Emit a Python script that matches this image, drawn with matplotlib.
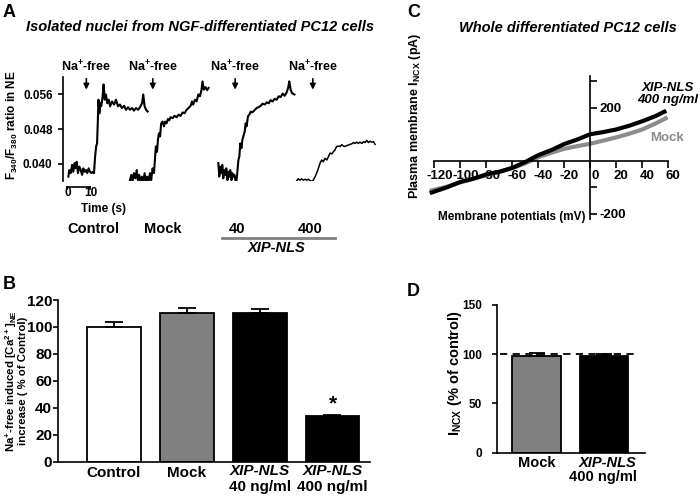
import numpy as np
import matplotlib
matplotlib.use('Agg')
import matplotlib.pyplot as plt
from matplotlib.lines import Line2D
from matplotlib.transforms import ScaledTranslation, blended_transform_factory

plt.rcParams['font.family'] = 'Liberation Sans'
plt.rcParams['font.weight'] = 'bold'
plt.rcParams['mathtext.default'] = 'regular'
plt.rcParams['axes.linewidth'] = 1.2

# ---- Panel A: F340/F380 traces (time in s from the start of each trace)
ctrl_t = [0, 0.4, 1.0, 1.6, 2.1, 2.7, 3.1, 3.6, 4.1, 4.7, 5.3, 5.9, 6.4, 7.0, 7.6, 8.1, 8.7, 9.3, 9.9, 10.4,
          11.0, 11.4, 11.9, 12.3, 12.6, 12.9, 13.3, 13.7, 14.1, 14.7, 15.1, 15.6, 16.1, 16.7, 17.3, 17.9, 18.7,
          19.6, 20.4, 21.3, 22.1, 23.0, 23.9, 24.7, 25.6, 26.4, 27.3, 28.1, 29.0, 29.9, 30.7, 31.6, 32.1, 32.7,
          33.3, 34.0]
ctrl_r = [0.0371, 0.0386, 0.0379, 0.0398, 0.0382, 0.0402, 0.0390, 0.0405, 0.0379, 0.0394,
          0.0386, 0.0375, 0.0390, 0.0382, 0.0386, 0.0379, 0.0390, 0.0382, 0.0379, 0.0382,
          0.0379, 0.0413, 0.0440, 0.0447, 0.0493, 0.0547, 0.0516, 0.0539, 0.0532, 0.0555,
          0.0582, 0.0547, 0.0559, 0.0539, 0.0547, 0.0532, 0.0543, 0.0536, 0.0547, 0.0532,
          0.0536, 0.0528, 0.0533, 0.0524, 0.0530, 0.0524, 0.0528, 0.0522, 0.0528, 0.0524,
          0.0530, 0.0539, 0.0559, 0.0532, 0.0524, 0.0520]

mock_t = [0, 0.6, 1.1, 1.7, 2.3, 2.9, 3.4, 4.0, 4.6, 5.1, 5.7, 6.3, 6.9, 7.4, 8.0, 8.6, 9.1, 9.7, 10.3, 10.7,
          11.1, 11.6, 12.0, 12.4, 12.9, 13.4, 14.0, 14.6, 15.1, 15.7, 16.3, 16.9, 17.4, 18.3, 19.1, 20.0, 20.9,
          21.7, 22.6, 23.4, 24.3, 25.1, 26.0, 26.6, 27.1, 27.9, 28.6, 29.3, 30.0, 30.7, 31.1, 31.7, 32.4, 33.1,
          33.7]
mock_r = [0.0363, 0.0375, 0.0359, 0.0379, 0.0367, 0.0386, 0.0363, 0.0375, 0.0352, 0.0371,
          0.0359, 0.0379, 0.0356, 0.0371, 0.0359, 0.0379, 0.0363, 0.0390, 0.0379, 0.0409,
          0.0440, 0.0428, 0.0455, 0.0470, 0.0463, 0.0493, 0.0497, 0.0486, 0.0497, 0.0493,
          0.0503, 0.0500, 0.0507, 0.0505, 0.0510, 0.0507, 0.0513, 0.0510, 0.0518, 0.0516,
          0.0524, 0.0528, 0.0533, 0.0543, 0.0536, 0.0547, 0.0543, 0.0559, 0.0555, 0.0570,
          0.0589, 0.0570, 0.0576, 0.0569, 0.0574]

xip40_t = [0, 0.4, 0.9, 1.3, 1.7, 2.1, 2.6, 3.0, 3.4, 3.9, 4.3, 4.7, 5.1, 5.6, 6.0, 6.4, 6.9, 7.3, 7.7, 8.1,
           8.6, 9.0, 9.4, 9.9, 10.3, 10.7, 11.3, 11.7, 12.1, 12.7, 13.3, 13.9, 14.4, 15.0, 15.7, 16.4, 17.3,
           18.1, 19.0, 19.9, 20.7, 21.6, 22.4, 23.3, 24.1, 25.0, 25.9, 26.7, 27.6, 28.4, 29.3, 30.0, 30.4,
           31.0, 31.6, 32.6]
xip40_r = [0.0402, 0.0371, 0.0394, 0.0379, 0.0398, 0.0367, 0.0386, 0.0375, 0.0390, 0.0363,
           0.0382, 0.0371, 0.0386, 0.0363, 0.0379, 0.0371, 0.0375, 0.0363, 0.0359, 0.0379,
           0.0409, 0.0417, 0.0447, 0.0436, 0.0455, 0.0463, 0.0474, 0.0493, 0.0486, 0.0509,
           0.0513, 0.0520, 0.0518, 0.0520, 0.0524, 0.0528, 0.0530, 0.0533, 0.0538, 0.0536,
           0.0541, 0.0539, 0.0546, 0.0543, 0.0549, 0.0547, 0.0555, 0.0553, 0.0561, 0.0556,
           0.0564, 0.0576, 0.0589, 0.0570, 0.0562, 0.0559]

xip400_t = [0, 0.7, 1.4, 2.1, 2.9, 3.6, 4.3, 5.0, 5.7, 6.4, 7.1, 7.9, 8.6, 9.3, 10.0, 10.7, 11.4, 12.1,
            12.9, 13.6, 14.3, 15.0, 15.7, 16.4, 17.1, 17.9, 18.6, 19.3, 20.0, 20.7, 21.4, 22.1, 22.9, 23.6,
            24.3, 25.0, 25.7, 26.4, 27.1, 27.9, 28.6, 29.3, 30.0, 30.7, 31.4, 32.1, 32.9, 33.6]
xip400_r = [0.0362, 0.0366, 0.0363, 0.0366, 0.0363, 0.0365, 0.0363, 0.0365, 0.0362, 0.0360,
            0.0363, 0.0371, 0.0380, 0.0390, 0.0402, 0.0409, 0.0405, 0.0413, 0.0409, 0.0417,
            0.0425, 0.0423, 0.0428, 0.0432, 0.0440, 0.0441, 0.0440, 0.0444, 0.0441, 0.0440,
            0.0442, 0.0443, 0.0445, 0.0446, 0.0449, 0.0447, 0.0450, 0.0447, 0.0450, 0.0447,
            0.0451, 0.0449, 0.0454, 0.0449, 0.0452, 0.0450, 0.0451, 0.0445]

trace_starts = [0.7, 27.1, 65.0, 98.6]      # where each trace sits on the shared time axis
na_free_times = [8.4, 36.9, 72.2, 105.5]
trace_names = ['Control', 'Mock', '40', '400']

# ---- Panel B: Na+-free induced [Ca2+]NE increase
b_groups = ['Control', 'Mock', 'XIP-NLS', 'XIP-NLS']
b_doses = ['', '', '40 ng/ml', '400 ng/ml']
b_values = [100, 110.5, 110, 34]
b_err = [4, 3.5, 3, 1]
b_colors = ['white', '#808080', 'black', 'black']

# ---- Panel C: I-V relationship
c_mv_xip = [-122, -110, -100, -90, -80, -70, -60, -50, -40, -30, -20, -10, 0, 10, 20, 30, 40, 50, 57]
c_pa_xip = [-120, -100, -80, -68, -52, -42, -27, -5, 21, 40, 63, 80, 100, 108, 118, 132, 149, 168, 185]
c_mv_mock = [-122, -110, -100, -90, -80, -70, -60, -50, -40, -30, -20, -10, 0, 10, 20, 30, 40, 50, 58]
c_pa_mock = [-112, -98, -82, -68, -55, -42, -28, -10, 13, 30, 45, 55, 64, 76, 88, 102, 118, 140, 160]

# ---- Panel D: INCX (% of control)
d_groups = ['Mock', 'XIP-NLS']
d_values = [98.5, 98]
d_err = [3, 2.5]
d_colors = ['#808080', 'black']

W, H = 700, 496


def fx(px):
    return px / W


def fy(py):
    return 1 - py / H


fig = plt.figure(figsize=(7, 4.96), dpi=100)

# ================= Panel A =================
axA = fig.add_axes([fx(63), fy(181), 317 / W, 104 / H])
traces = [(ctrl_t, ctrl_r), (mock_t, mock_r), (xip40_t, xip40_r), (xip400_t, xip400_r)]
widths = [1.5, 1.5, 1.5, 1.1]
for (t, r), start, lw in zip(traces, trace_starts, widths):
    axA.plot(np.array(t) + start, r, color='black', lw=lw)
axA.set_xlim(-1.6, 134.3)
axA.set_ylim(0.0361, 0.0599)
for s in ['top', 'right', 'bottom']:
    axA.spines[s].set_visible(False)
axA.set_xticks([])
axA.set_yticks([0.040, 0.048, 0.056])
axA.set_yticklabels(['0.040', '0.048', '0.056'], fontsize=8.5)
axA.tick_params(axis='y', length=3.5, width=1.2, pad=4)

for t in na_free_times:
    axA.annotate('', xy=(t, 0.0570), xytext=(t, 0.0595),
                 arrowprops=dict(arrowstyle='-|>', color='black', lw=1.2, mutation_scale=8,
                                 shrinkA=0, shrinkB=0),
                 annotation_clip=False)
    axA.text(t, 0.0623, 'Na$^{+}$-free', ha='center', va='center', fontsize=9, clip_on=False)

# time scale bar
axA.plot([0, 10], [0.0347, 0.0347], color='black', lw=1.2, clip_on=False)
axA.plot([0, 0], [0.0347, 0.0342], color='black', lw=1.2, clip_on=False)
axA.plot([10, 10], [0.0347, 0.0342], color='black', lw=1.2, clip_on=False)
axA.text(0.4, 0.0333, '0', ha='center', va='center', fontsize=8.5, clip_on=False)
axA.text(10.3, 0.0333, '10', ha='center', va='center', fontsize=8.5, clip_on=False)
axA.text(15.7, 0.0297, 'Time (s)', ha='center', va='center', fontsize=8.5, clip_on=False)

for name, px in zip(trace_names, [93, 163, 237, 310]):
    fig.text(fx(px), fy(229), name, ha='center', va='center', fontsize=10.5)
fig.add_artist(Line2D([fx(222), fx(335)], [fy(238), fy(238)], color='#808080', lw=2))
fig.text(fx(277), fy(248), 'XIP-NLS', ha='center', va='center', fontsize=10.5, style='italic')

fig.text(fx(12), fy(125), r'F$_{340}$/F$_{380}$ ratio in NE', rotation=90,
         ha='center', va='center', fontsize=8.5)
fig.text(fx(200), fy(27), 'Isolated nuclei from NGF-differentiated PC12 cells',
         ha='center', va='center', fontsize=10.5, style='italic')
fig.text(fx(3), fy(4), 'A', ha='left', va='top', fontsize=13)

# ================= Panel C =================
axC = fig.add_axes([fx(427.8), fy(220.3), 243.1 / W, 145.7 / H])
axC.plot(c_mv_mock, c_pa_mock, color='#8c8c8c', lw=3)
axC.plot(c_mv_xip, c_pa_xip, color='black', lw=3)
axC.set_xlim(-125, 62)
axC.set_ylim(-225, 325)
axC.spines['left'].set_visible(False)
axC.spines['top'].set_visible(False)
axC.spines['right'].set_position(('data', 0))
axC.spines['bottom'].set_position(('data', 0))
axC.spines['right'].set_bounds(-220, 320)
axC.spines['bottom'].set_bounds(-120, 60)
axC.yaxis.tick_right()
axC.set_yticks([-200, -100, 100, 200, 300])
axC.set_yticklabels(['-200', '', '', '200', ''], fontsize=9.5)
axC.set_xticks(list(range(-120, 61, 20)))
axC.set_xticklabels([str(v) for v in range(-120, 61, 20)], fontsize=9.5)
axC.tick_params(axis='both', length=5, width=1.2, pad=1.5)
offset = ScaledTranslation(5 / 100, 0, fig.dpi_scale_trans)
for lab in axC.get_xticklabels():
    lab.set_transform(lab.get_transform() + offset)

fig.text(fx(415), fy(116), r'Plasma membrane I$_{NCX}$ (pA)', rotation=90,
         ha='center', va='center', fontsize=9)
fig.text(fx(512), fy(216.7), 'Membrane potentials (mV)', ha='center', va='center', fontsize=8.5)
fig.text(fx(568), fy(28), 'Whole differentiated PC12 cells', ha='center', va='center',
         fontsize=10.5, style='italic')
fig.text(fx(668), fy(88), 'XIP-NLS', ha='center', va='center', fontsize=9.5, style='italic')
fig.text(fx(668), fy(100), '400 ng/ml', ha='center', va='center', fontsize=9.5, style='italic')
fig.text(fx(667), fy(138), 'Mock', ha='center', va='center', fontsize=9.5, color='#8c8c8c')
fig.text(fx(407), fy(4), 'C', ha='left', va='top', fontsize=13)

# ================= Panel B =================
axB = fig.add_axes([fx(58.3), fy(461.7), 311.7 / W, 161.7 / H])
xb = np.arange(len(b_values))
axB.bar(xb, b_values, width=0.74, color=b_colors, edgecolor='black', lw=1.3, zorder=2)
axB.errorbar(xb, b_values, yerr=[np.zeros(len(b_err)), b_err], fmt='none', ecolor='black',
             elinewidth=1.3, capsize=6.5, capthick=1.3, zorder=3)
axB.set_xlim(-0.765, 3.515)
axB.set_ylim(0, 120)
axB.spines['top'].set_visible(False)
axB.spines['right'].set_visible(False)
axB.set_yticks(range(0, 121, 20))
axB.set_yticklabels([str(v) for v in range(0, 121, 20)], fontsize=11)
axB.set_xticks([])
axB.tick_params(axis='y', length=3.5, width=1.2, pad=1)
trB = blended_transform_factory(axB.transData, axB.transAxes)
for i, (g, d) in enumerate(zip(b_groups, b_doses)):
    if d:
        axB.text(i, -0.055, g, transform=trB, ha='center', va='center', fontsize=11, style='italic')
        axB.text(i, -0.155, d, transform=trB, ha='center', va='center', fontsize=11)
    else:
        axB.text(i, -0.068, g, transform=trB, ha='center', va='center', fontsize=11)
axB.text(3, 35.5, '*', ha='center', va='bottom', fontsize=15)

fig.text(fx(16), fy(381), 'Na$^{+}$-free induced [Ca$^{2+}$]$_{NE}$\nincrease ( % of Control)',
         rotation=90, ha='center', va='center', fontsize=8.2, linespacing=0.9)
fig.text(fx(3), fy(276), 'B', ha='left', va='top', fontsize=13)

# ================= Panel D =================
axD = fig.add_axes([fx(496.7), fy(452.7), 148.3 / W, 148 / H])
xd = np.arange(len(d_values))
axD.bar(xd, d_values, width=0.716, color=d_colors, edgecolor='black', lw=1.3, zorder=2)
axD.errorbar(xd, d_values, yerr=[np.zeros(len(d_err)), d_err], fmt='none', ecolor='black',
             elinewidth=1.3, capsize=5.5, capthick=1.3, zorder=3)
axD.plot([-0.54, 1.46], [100, 100], color='black', lw=1.3, ls=(0, (4, 3)), zorder=4)
axD.set_xlim(-0.59, 1.607)
axD.set_ylim(0, 150)
axD.spines['top'].set_visible(False)
axD.spines['right'].set_visible(False)
axD.set_yticks([0, 50, 100, 150])
axD.set_yticklabels(['0', '50', '100', '150'], fontsize=8.5)
axD.set_xticks([])
axD.tick_params(axis='y', length=3.5, width=1.2, pad=7)
fig.text(fx(536.7), fy(462.7), 'Mock', ha='center', va='center', fontsize=10.5)
fig.text(fx(608), fy(462.7), 'XIP-NLS', ha='center', va='center', fontsize=10.5, style='italic')
fig.text(fx(603), fy(476.7), '400 ng/ml', ha='center', va='center', fontsize=10.5)
fig.text(fx(455), fy(373), r'I$_{NCX}$ (% of control)', rotation=90,
         ha='center', va='center', fontsize=10.5)
fig.text(fx(407), fy(283), 'D', ha='left', va='top', fontsize=13)

fig.savefig('out.png', dpi=100)
